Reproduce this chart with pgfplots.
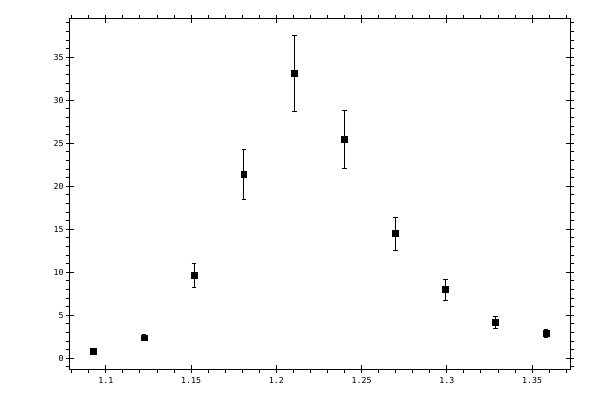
\documentclass[border=0pt]{standalone}
\usepackage{fontspec}
\setmainfont{DejaVu Sans Mono}
\usepackage{pgfplots}
\pgfplotsset{compat=1.18}
\usepackage{pgfplotstable}
\pgfplotstableread{
x y ep em
1.0926 0.81 0.12 0.12
1.1224 2.36 0.35 0.30
1.1517 9.65 1.35 1.39
1.1809 21.40 2.90 2.90
1.2108 33.14 4.42 4.42
1.2400 25.47 3.37 3.38
1.2699 14.53 1.87 1.97
1.2991 8.02 1.17 1.28
1.3284 4.19 0.69 0.70
1.3582 2.91 0.42 0.55
}\data
\begin{document}
\begin{tikzpicture}
\path[use as bounding box] (-69.7bp,-30.7bp) rectangle (530.3bp,369.3bp);
\begin{axis}[
  at={(0,0)}, anchor=south west,
  scale only axis, width=500.3bp, height=350.3bp,
  xmin=1.0788, xmax=1.3722, ymin=-1.28, ymax=39.45,
  axis line style={line width=1bp},
  every tick/.style={line width=1bp, black},
  every minor tick/.style={line width=1bp, black},
  tick align=outside,
  major tick length=4bp, minor tick length=3.5bp,
  xtick={1.1,1.15,1.2,1.25,1.3,1.35},
  xticklabels={1.1,1.15,1.2,1.25,1.3,1.35},
  ytick={0,5,10,15,20,25,30,35},
  yticklabels={0,5,10,15,20,25,30,35},
  minor xtick={1.08,1.09,1.11,1.12,1.13,1.14,1.16,1.17,1.18,1.19,1.21,1.22,1.23,1.24,1.26,1.27,1.28,1.29,1.31,1.32,1.33,1.34,1.36,1.37},
  minor ytick={-1,1,2,3,4,6,7,8,9,11,12,13,14,16,17,18,19,21,22,23,24,26,27,28,29,31,32,33,34,36,37,38,39},
  extra x ticks={1.1,1.15,1.2,1.25,1.3,1.35},
  extra x tick labels={},
  extra x tick style={tick align=inside},
  extra y ticks={0,5,10,15,20,25,30,35},
  extra y tick labels={},
  extra y tick style={tick align=inside},
  ticklabel style={font=\fontsize{8.3}{10}\selectfont, inner sep=2bp},
  xticklabel style={yshift=-2bp},
  /pgf/number format/assume math mode=true,
]
\addplot[only marks, mark=square*, mark size=2.9bp, mark options={line width=0.8bp, fill=black, draw=black},
  error bars/.cd, y dir=both, y explicit,
  error bar style={line width=1bp, black},
  error mark options={rotate=90, mark size=2.3bp, line width=1bp, black}]
  table[x=x, y=y, y error plus=ep, y error minus=em] {\data};
\end{axis}
\end{tikzpicture}
\end{document}
